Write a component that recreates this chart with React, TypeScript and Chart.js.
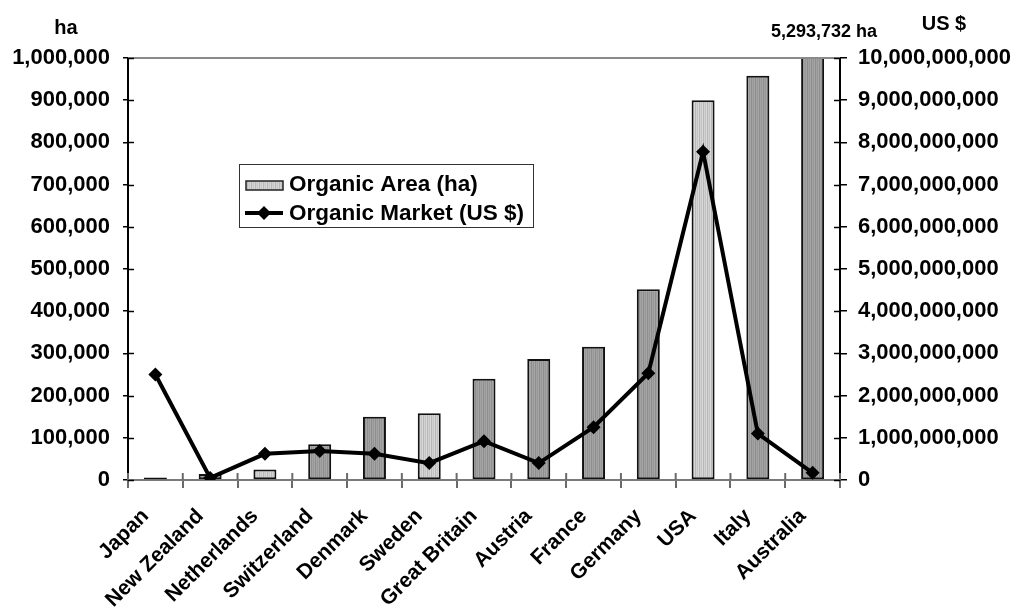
import React, { useEffect, useRef } from "react";
import { Chart, registerables } from "chart.js";

Chart.register(...registerables);

const categories = [
  "Japan",
  "New Zealand",
  "Netherlands",
  "Switzerland",
  "Denmark",
  "Sweden",
  "Great Britain",
  "Austria",
  "France",
  "Germany",
  "USA",
  "Italy",
  "Australia",
];

const organicAreaHa = [
  6000, 14000, 25000, 85000, 150000, 158000, 240000, 287000, 316000, 452000,
  900000, 958000, 5293732,
];

const organicMarketUsd = [
  2.5e9, 0.05e9, 0.62e9, 0.69e9, 0.62e9, 0.4e9, 0.92e9, 0.4e9, 1.25e9, 2.53e9,
  7.78e9, 1.1e9, 0.17e9,
];

const leftTicks = [0, 100000, 200000, 300000, 400000, 500000, 600000, 700000, 800000, 900000, 1000000];
const rightTicks = [0, 1e9, 2e9, 3e9, 4e9, 5e9, 6e9, 7e9, 8e9, 9e9, 1e10];

const seriesLabels = ["Organic Area (ha)", "Organic Market (US $)"];
const leftTitle = "ha";
const rightTitle = "US $";
const overflowNote = "5,293,732 ha";

// style: which bars use the lighter shade
const LIGHT_BARS = new Set([0, 2, 5, 10]);
const FONT = "'Liberation Sans', Arial, sans-serif";

function makePattern(colors: string[]): CanvasPattern | string {
  const c = document.createElement("canvas");
  c.width = colors.length;
  c.height = 1;
  const g = c.getContext("2d");
  if (!g) return colors[0];
  colors.forEach((col, i) => {
    g.fillStyle = col;
    g.fillRect(i, 0, 1, 1);
  });
  const p = g.createPattern(c, "repeat");
  return p || colors[0];
}

export default function App() {
  const ref = useRef<HTMLCanvasElement | null>(null);

  useEffect(() => {
    if (!ref.current) return;
    const light = makePattern(["#d2d2d2", "#c4c4c4", "#d8d8d8", "#b8b8b8"]);
    const dark = makePattern(["#a2a2a2", "#969696", "#a6a6a6", "#8e8e8e"]);

    const decorations = {
      id: "decorations",
      afterDraw(chart: any) {
        const ctx = chart.ctx as CanvasRenderingContext2D;
        const a = chart.chartArea;
        ctx.save();
        // top border of plot
        ctx.strokeStyle = "#8a8a8a";
        ctx.lineWidth = 2;
        ctx.beginPath();
        ctx.moveTo(a.left, a.top);
        ctx.lineTo(a.right, a.top);
        ctx.stroke();

        // inner halves of tick marks (ticks cross the axes)
        ctx.strokeStyle = "#000";
        ctx.lineWidth = 1.5;
        const ys = chart.scales.y;
        ys.ticks.forEach((t: any) => {
          const py = Math.round(ys.getPixelForValue(t.value)) + 0.5;
          ctx.beginPath();
          ctx.moveTo(a.left, py);
          ctx.lineTo(a.left + 6, py);
          ctx.stroke();
        });
        const y1 = chart.scales.y1;
        y1.ticks.forEach((t: any) => {
          const py = Math.round(y1.getPixelForValue(t.value)) + 0.5;
          ctx.beginPath();
          ctx.moveTo(a.right, py);
          ctx.lineTo(a.right - 6, py);
          ctx.stroke();
        });
        ctx.strokeStyle = "#6a6a6a";
        ctx.lineWidth = 2;
        for (let i = 0; i <= categories.length; i++) {
          const px = a.left + ((a.right - a.left) * i) / categories.length;
          ctx.beginPath();
          ctx.moveTo(px, a.bottom);
          ctx.lineTo(px, a.bottom - 7);
          ctx.stroke();
        }

        // titles
        ctx.fillStyle = "#000";
        ctx.textAlign = "center";
        ctx.textBaseline = "alphabetic";
        ctx.font = `bold 20px ${FONT}`;
        ctx.fillText(leftTitle, 66, 34);
        ctx.fillText(rightTitle, 944, 30);
        ctx.font = `bold 18px ${FONT}`;
        ctx.fillText(overflowNote, 824, 37);

        // legend
        const lx = 239.5, ly = 164.5, lw = 294, lh = 63;
        ctx.fillStyle = "#fff";
        ctx.fillRect(lx, ly, lw, lh);
        ctx.strokeStyle = "#333";
        ctx.lineWidth = 1;
        ctx.strokeRect(lx, ly, lw, lh);

        ctx.fillStyle = light as any;
        ctx.fillRect(246, 181, 37, 9);
        ctx.strokeStyle = "#222";
        ctx.lineWidth = 1.5;
        ctx.strokeRect(246, 181, 37, 9);

        ctx.strokeStyle = "#000";
        ctx.lineWidth = 4;
        ctx.beginPath();
        ctx.moveTo(245, 213);
        ctx.lineTo(283, 213);
        ctx.stroke();
        ctx.fillStyle = "#000";
        ctx.beginPath();
        ctx.moveTo(264, 206);
        ctx.lineTo(271, 213);
        ctx.lineTo(264, 220);
        ctx.lineTo(257, 213);
        ctx.closePath();
        ctx.fill();

        ctx.fillStyle = "#000";
        ctx.textAlign = "left";
        ctx.font = `bold 22.5px ${FONT}`;
        ctx.fillText(chart.data.datasets[0].label, 289, 191);
        ctx.fillText(chart.data.datasets[1].label, 289, 220);
        ctx.restore();
      },
    };

    const chart = new Chart(ref.current, {
      type: "bar",
      data: {
        labels: categories,
        datasets: [
          {
            type: "bar",
            label: seriesLabels[0],
            data: organicAreaHa,
            yAxisID: "y",
            backgroundColor: categories.map((_, i) => (LIGHT_BARS.has(i) ? light : dark)) as any,
            borderColor: "#111",
            borderWidth: 2,
            borderSkipped: false,
            categoryPercentage: 1,
            barPercentage: 0.42,
            order: 2,
          },
          {
            type: "line",
            label: seriesLabels[1],
            data: organicMarketUsd,
            yAxisID: "y1",
            borderColor: "#000",
            backgroundColor: "#000",
            borderWidth: 4,
            pointStyle: "rectRot",
            pointRadius: 7,
            pointBorderWidth: 0,
            tension: 0,
            order: 1,
          } as any,
        ],
      },
      options: {
        animation: false,
        responsive: false,
        maintainAspectRatio: false,
        layout: { padding: { top: 58, left: 0, right: 0, bottom: 0 } },
        plugins: {
          legend: { display: false },
          tooltip: { enabled: false },
        },
        scales: {
          x: {
            type: "category",
            offset: true,
            border: { color: "#7a7a7a", width: 2 },
            grid: {
              display: true,
              offset: true,
              drawOnChartArea: false,
              drawTicks: true,
              tickLength: 8,
              color: "#6a6a6a",
              lineWidth: 2,
            },
            ticks: {
              color: "#000",
              minRotation: 45,
              maxRotation: 45,
              autoSkip: false,
              padding: 16,
              labelOffset: -10,
              font: { family: FONT, size: 21, weight: "bold" },
            },
            afterFit(scale: any) {
              scale.height = 130;
            },
          },
          y: {
            position: "left",
            min: 0,
            max: 1000000,
            afterBuildTicks(scale: any) {
              scale.ticks = leftTicks.map((v) => ({ value: v }));
            },
            border: { color: "#000", width: 2 },
            grid: {
              drawOnChartArea: false,
              drawTicks: true,
              tickLength: 5,
              color: "#000",
              lineWidth: 1.5,
            },
            ticks: {
              color: "#000",
              padding: 13,
              font: { family: FONT, size: 22, weight: "bold" },
              callback: (v: any) => Number(v).toLocaleString("en-US"),
            },
            afterFit(scale: any) {
              scale.width = 128;
            },
          },
          y1: {
            position: "right",
            min: 0,
            max: 1e10,
            afterBuildTicks(scale: any) {
              scale.ticks = rightTicks.map((v) => ({ value: v }));
            },
            border: { color: "#000", width: 2 },
            grid: {
              drawOnChartArea: false,
              drawTicks: true,
              tickLength: 7,
              color: "#000",
              lineWidth: 1.5,
            },
            ticks: {
              color: "#000",
              padding: 11,
              font: { family: FONT, size: 22, weight: "bold" },
              callback: (v: any) => Number(v).toLocaleString("en-US"),
            },
            afterFit(scale: any) {
              scale.width = 179;
            },
          },
        },
      },
      plugins: [decorations],
    });

    return () => chart.destroy();
  }, []);

  return (
    <div style={{ position: "fixed", left: 0, top: 0, width: 1019, height: 610, background: "#fff" }}>
      <canvas ref={ref} width={1019} height={610} style={{ width: 1019, height: 610, display: "block" }} />
    </div>
  );
}
